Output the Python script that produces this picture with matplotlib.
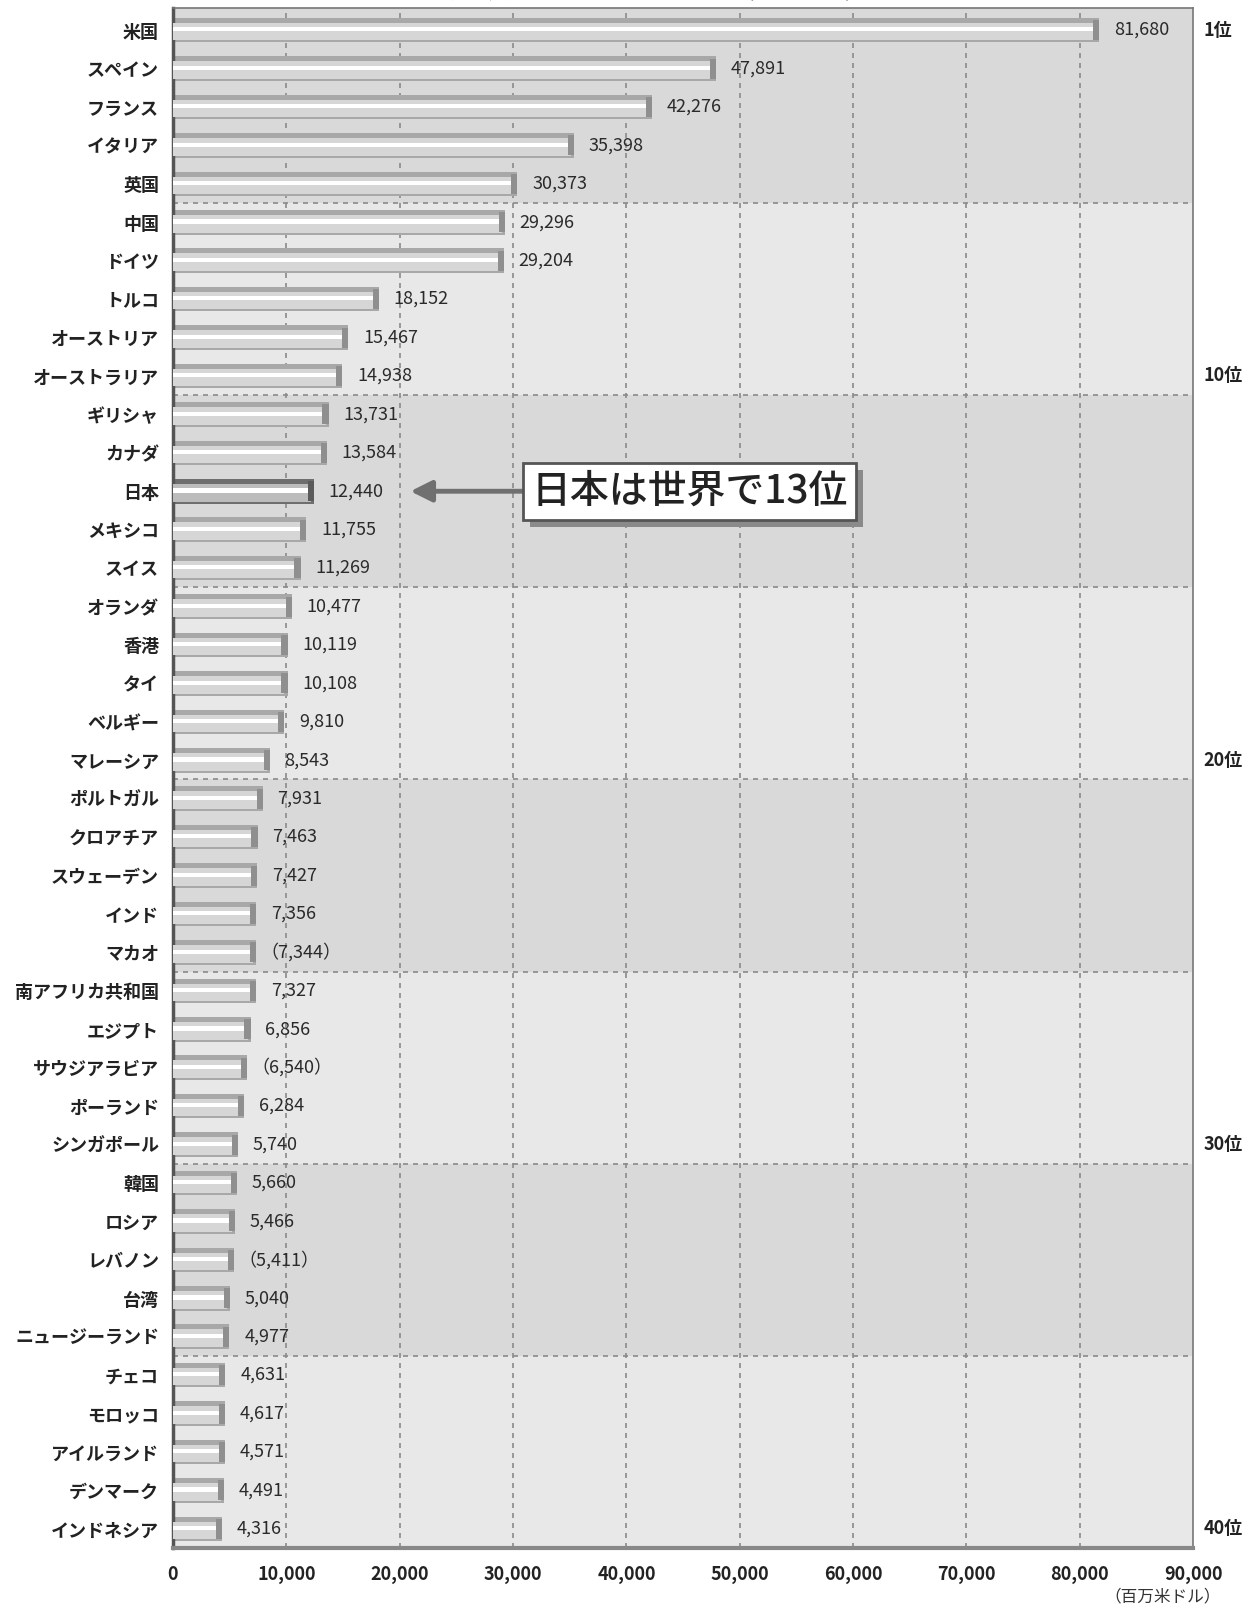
"""International tourism receipts ranking, top 40 countries (horizontal bars)."""
import numpy as np
import matplotlib
matplotlib.use("Agg")
import matplotlib.pyplot as plt
from matplotlib import patheffects as pe

plt.rcParams["font.family"] = ["Noto Sans CJK JP", "DejaVu Sans"]

countries = ["米国", "スペイン", "フランス", "イタリア", "英国",
             "中国", "ドイツ", "トルコ", "オーストリア", "オーストラリア",
             "ギリシャ", "カナダ", "日本", "メキシコ", "スイス",
             "オランダ", "香港", "タイ", "ベルギー", "マレーシア",
             "ポルトガル", "クロアチア", "スウェーデン", "インド", "マカオ",
             "南アフリカ共和国", "エジプト", "サウジアラビア", "ポーランド", "シンガポール",
             "韓国", "ロシア", "レバノン", "台湾", "ニュージーランド",
             "チェコ", "モロッコ", "アイルランド", "デンマーク", "インドネシア"]
receipts = [81680, 47891, 42276, 35398, 30373,
            29296, 29204, 18152, 15467, 14938,
            13731, 13584, 12440, 11755, 11269,
            10477, 10119, 10108, 9810, 8543,
            7931, 7463, 7427, 7356, 7344,
            7327, 6856, 6540, 6284, 5740,
            5660, 5466, 5411, 5040, 4977,
            4631, 4617, 4571, 4491, 4316]
estimated = ["マカオ", "サウジアラビア", "レバノン"]
rank_marks = [1, 10, 20, 30, 40]
xticks = list(range(0, 90001, 10000))

vals = np.array(receipts, dtype=float)
y = np.arange(len(countries))
n = len(countries)

fig = plt.figure(figsize=(12.48, 16.09), dpi=100)
ax = fig.add_axes([0.1386, 0.0379, 0.8175, 0.957])
ax.set_xlim(0, 90000)
ax.set_ylim(n - 0.5, -0.57)

# alternating bands of 5 ranks
for g in range(0, n, 5):
    ax.axhspan(g - 0.5 if g else -0.57, g + 4.5, color="#d9d9d9" if (g // 5) % 2 == 0 else "#e8e8e8",
               lw=0, zorder=0)
    if g:
        ax.axhline(g - 0.5, color="#8a8a8a", lw=1.2, ls=(0, (3, 3)), zorder=1)
for x in xticks[1:-1]:
    ax.axvline(x, color="#8a8a8a", lw=1.2, ls=(0, (3, 3)), zorder=1)

# cylinder-like bars
is_jp = np.array([c == "日本" for c in countries])
base = np.where(is_jp, "#6e6e6e", "#a8a8a8")
mid = np.where(is_jp, "#bcbcbc", "#d6d6d6")
cap_w = 550
ax.barh(y, vals, height=0.64, color=base, lw=0, zorder=2)
ax.barh(y + 0.04, vals - cap_w / 2, height=0.46, color=mid, lw=0, zorder=3)
ax.barh(y - 0.02, vals - cap_w, height=0.11, color="white", lw=0, zorder=4)
ax.barh(y, np.full(n, cap_w), left=vals - cap_w, height=0.52,
        color=np.where(is_jp, "#5a5a5a", "#8f8f8f"), lw=0, zorder=5)

for yi, c, v in zip(y, countries, receipts):
    s = f"{v:,}"
    if c in estimated:
        s = f"（{s}）"
        ax.text(v + 400, yi, s, va="center", ha="left", fontsize=13, color="#2a2a2a", zorder=6)
    else:
        ax.text(v + 1300, yi, s, va="center", ha="left", fontsize=13, color="#2a2a2a", zorder=6)

ax.set_yticks(y)
ax.set_yticklabels(countries, fontsize=13, fontweight="bold", color="#222222")
ax.set_xticks(xticks)
ax.set_xticklabels([f"{x:,}" for x in xticks], fontsize=13, fontweight="bold", color="#222222")
ax.tick_params(axis="both", length=0, pad=10)
ax.tick_params(axis="x", pad=12)

for side in ["top", "right"]:
    ax.spines[side].set_color("#777777")
    ax.spines[side].set_linewidth(1.2)
ax.spines["left"].set_color("#555555")
ax.spines["left"].set_linewidth(2.5)
ax.spines["bottom"].set_color("#888888")
ax.spines["bottom"].set_linewidth(3)

trans = ax.get_yaxis_transform()
for r in rank_marks:
    ax.text(1.01, r - 1, f"{r}位", transform=trans, va="center", ha="left",
            fontsize=13, fontweight="bold", color="#222222")

# callout for Japan
jp = countries.index("日本")
ax.annotate("", xy=(20700, jp), xytext=(31500, jp),
            arrowprops=dict(arrowstyle="-|>", color="#707070", lw=3.5, mutation_scale=32),
            zorder=7)
t = ax.text(31600, jp, "日本は世界で13位", va="center", ha="left", fontsize=28,
            fontweight="medium", color="#222222", zorder=8,
            bbox=dict(boxstyle="square,pad=0.22", fc="white", ec="#555555", lw=2))
t.get_bbox_patch().set_path_effects([pe.SimplePatchShadow(offset=(5, -5), shadow_rgbFace="#8a8a8a", alpha=1),
                                     pe.Normal()])

fig.text(0.978, 0.0075, "（百万米ドル）", ha="right", va="center", fontsize=12, color="#333333")
fig.text(0.49, 1.006, "図7　国際観光収入ランキング（2013年）", ha="center", va="center", fontsize=20,
         color="#222222")

fig.savefig("out.png", dpi=100)
